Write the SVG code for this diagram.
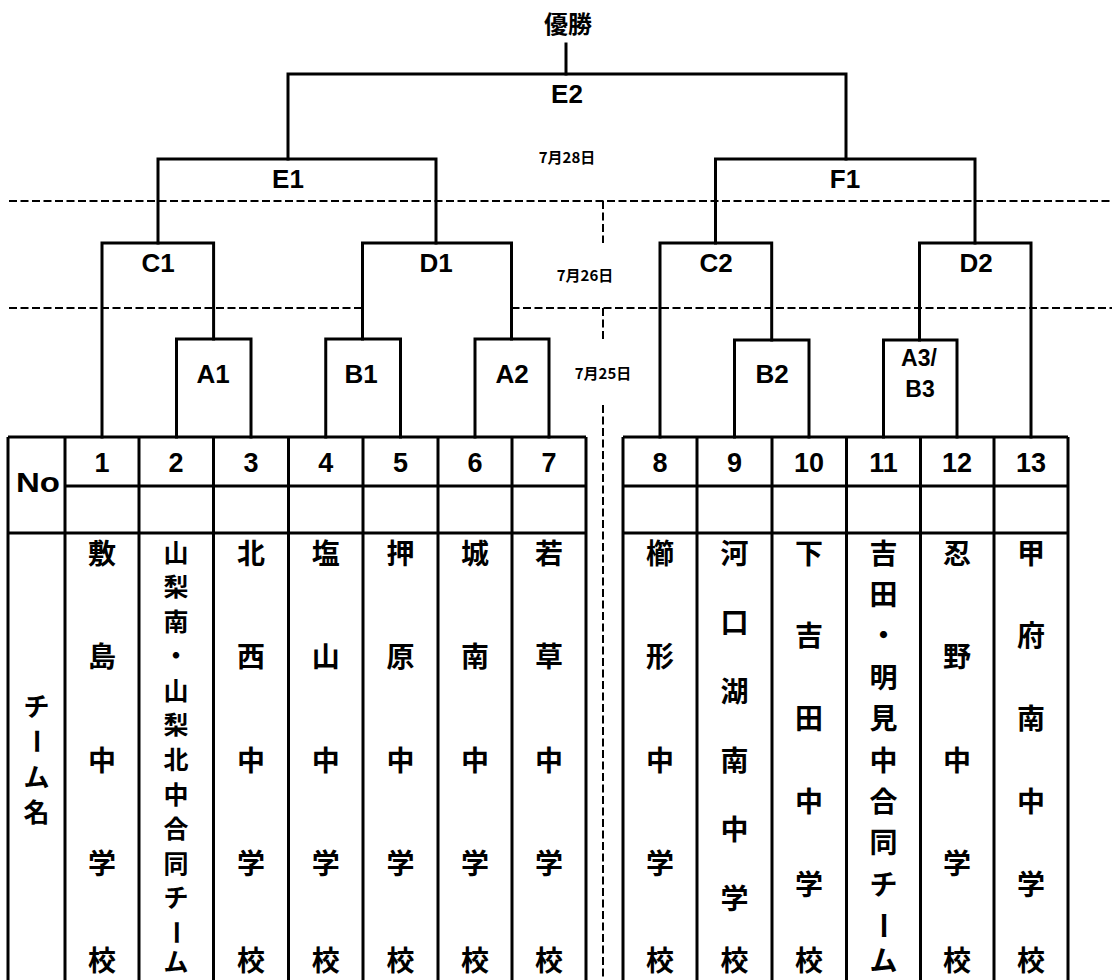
<svg xmlns="http://www.w3.org/2000/svg" width="1112" height="980" viewBox="0 0 1112 980">
<style>
.ln{fill:none;stroke:#000;stroke-width:3;stroke-linecap:square}
.tb{fill:none;stroke:#000;stroke-width:3}
.ds{fill:none;stroke:#000;stroke-width:2;stroke-dasharray:8 3.5}
.lb{font-family:"Liberation Sans","Noto Sans CJK JP",sans-serif;font-size:26px;font-weight:bold;text-anchor:middle;fill:#000}
.num{font-family:"Liberation Sans","Noto Sans CJK JP",sans-serif;font-size:27px;font-weight:bold;text-anchor:middle;fill:#000}
.dt{font-family:"Noto Sans CJK JP","Liberation Sans",sans-serif;font-size:15px;font-weight:bold;text-anchor:middle;fill:#000}
.jp{font-family:"Noto Sans CJK JP",sans-serif;font-size:28px;font-weight:bold;text-anchor:middle;fill:#000}
.jps{font-family:"Noto Sans CJK JP",sans-serif;font-size:25px;font-weight:bold;text-anchor:middle;fill:#000}
.jph{font-family:"Noto Sans CJK JP",sans-serif;font-size:26px;font-weight:bold;text-anchor:middle;fill:#000}
</style>

<g id="connectors">
<path class="ln" d="M566,44 V74"/>
<path class="ln" d="M288,159 V74 H846 V159"/>
<path class="ln" d="M158,243 V159 H436 V243"/>
<path class="ln" d="M715.5,243 V159 H975 V243"/>
<path class="ln" d="M102,437 V243 H213.6 V339"/>
<path class="ln" d="M362.5,339 V243 H511.5 V339"/>
<path class="ln" d="M660,437 V243 H771.7 V340"/>
<path class="ln" d="M919.5,340 V243 H1031 V437"/>
<path class="ln" d="M176.5,437 V339 H251 V437"/>
<path class="ln" d="M325.75,437 V339 H400.5 V437"/>
<path class="ln" d="M475,437 V339 H549 V437"/>
<path class="ln" d="M734.5,437 V340 H809 V437"/>
<path class="ln" d="M883.5,437 V340 H957 V437"/>
</g>

<g id="round-dividers">
<path class="ds" d="M9,201 H1112"/>
<path class="ds" d="M9,308 H362.5 M511.5,308 H1112"/>
<path class="ds" d="M603,201 V243 M603,308 V340 M603,405 V980"/>
</g>

<g id="champion"><text class="jp" style="font-size:24px" x="568" y="33">優勝</text></g>
<g id="date-0728"><text class="dt" x="567" y="163">7月28日</text></g>
<g id="date-0726"><text class="dt" x="585" y="281">7月26日</text></g>
<g id="date-0725"><text class="dt" x="603" y="379">7月25日</text></g>

<g id="match-E2"><text class="lb" x="567" y="103">E2</text></g>
<g id="match-E1"><text class="lb" x="288" y="188">E1</text></g>
<g id="match-F1"><text class="lb" x="845" y="188">F1</text></g>
<g id="match-C1"><text class="lb" x="158" y="272">C1</text></g>
<g id="match-D1"><text class="lb" x="436" y="272">D1</text></g>
<g id="match-C2"><text class="lb" x="716" y="272">C2</text></g>
<g id="match-D2"><text class="lb" x="976" y="272">D2</text></g>
<g id="match-A1"><text class="lb" x="213" y="383">A1</text></g>
<g id="match-B1"><text class="lb" x="361" y="383">B1</text></g>
<g id="match-A2"><text class="lb" x="512" y="383">A2</text></g>
<g id="match-B2"><text class="lb" x="772" y="383">B2</text></g>
<g id="match-A3B3"><text class="lb" style="font-size:23px" x="919" y="366">A3/</text><text class="lb" style="font-size:23px" x="920" y="397">B3</text></g>

<g id="table-left">
<path class="tb" d="M8,437 H586 M65,486 H586 M8,533 H586"/>
<path class="tb" d="M8,437 V990 M65,437 V990 M139,437 V990 M213.5,437 V990 M288.5,437 V990 M363,437 V990 M438,437 V990 M512,437 V990 M586,437 V990"/>
<text class="lb" x="38" y="492" textLength="44" lengthAdjust="spacingAndGlyphs" style="font-size:28px">No</text>
<text class="num" x="102" y="472">1</text>
<text class="num" x="176" y="472">2</text>
<text class="num" x="251" y="472">3</text>
<text class="num" x="325.75" y="472">4</text>
<text class="num" x="400.5" y="472">5</text>
<text class="num" x="475" y="472">6</text>
<text class="num" x="549" y="472">7</text>
</g>

<g id="table-right">
<path class="tb" d="M623,437 H1068 M623,486 H1068 M623,533 H1068"/>
<path class="tb" d="M623,437 V990 M697,437 V990 M772,437 V990 M846.5,437 V990 M920.5,437 V990 M994,437 V990 M1068,437 V990"/>
<text class="num" x="660" y="472">8</text>
<text class="num" x="734.5" y="472">9</text>
<text class="num" x="809" y="472">10</text>
<text class="num" x="883.5" y="472">11</text>
<text class="num" x="957" y="472">12</text>
<text class="num" x="1031" y="472">13</text>
</g>

<g id="header-team">
<text class="jph"><tspan x="36.5" y="715.9">チ</tspan><tspan x="36.5" y="786.6">ム</tspan><tspan x="36.5" y="821.9">名</tspan></text>
<text class="jph" x="36.5" y="751.2" transform="rotate(90 36.5 741.3)">ー</text>
</g>

<g id="team-1"><text class="jp"><tspan x="102" y="563.6">敷</tspan><tspan x="102" y="667.1">島</tspan><tspan x="102" y="770.6">中</tspan><tspan x="102" y="874.1">学</tspan><tspan x="102" y="971">校</tspan></text></g>

<g id="team-2"><text class="jps"><tspan x="176" y="561.5">山</tspan><tspan x="176" y="596.1">梨</tspan><tspan x="176" y="630.7">南</tspan><tspan x="176" y="665.25">・</tspan><tspan x="176" y="699.8">山</tspan><tspan x="176" y="734.4">梨</tspan><tspan x="176" y="769">北</tspan><tspan x="176" y="803.6">中</tspan><tspan x="176" y="838.2">合</tspan><tspan x="176" y="872.75">同</tspan><tspan x="176" y="907.3">チ</tspan><tspan x="176" y="971">ム</tspan></text>
<text class="jps" x="176" y="941.9" transform="rotate(90 176 932.4)">ー</text></g>

<g id="team-3"><text class="jp"><tspan x="251" y="563.6">北</tspan><tspan x="251" y="667.1">西</tspan><tspan x="251" y="770.6">中</tspan><tspan x="251" y="874.1">学</tspan><tspan x="251" y="971">校</tspan></text></g>

<g id="team-4"><text class="jp"><tspan x="325.75" y="563.6">塩</tspan><tspan x="325.75" y="667.1">山</tspan><tspan x="325.75" y="770.6">中</tspan><tspan x="325.75" y="874.1">学</tspan><tspan x="325.75" y="971">校</tspan></text></g>

<g id="team-5"><text class="jp"><tspan x="400.5" y="563.6">押</tspan><tspan x="400.5" y="667.1">原</tspan><tspan x="400.5" y="770.6">中</tspan><tspan x="400.5" y="874.1">学</tspan><tspan x="400.5" y="971">校</tspan></text></g>

<g id="team-6"><text class="jp"><tspan x="475" y="563.6">城</tspan><tspan x="475" y="667.1">南</tspan><tspan x="475" y="770.6">中</tspan><tspan x="475" y="874.1">学</tspan><tspan x="475" y="971">校</tspan></text></g>

<g id="team-7"><text class="jp"><tspan x="549" y="563.6">若</tspan><tspan x="549" y="667.1">草</tspan><tspan x="549" y="770.6">中</tspan><tspan x="549" y="874.1">学</tspan><tspan x="549" y="971">校</tspan></text></g>

<g id="team-8"><text class="jp"><tspan x="660" y="563.6">櫛</tspan><tspan x="660" y="667.1">形</tspan><tspan x="660" y="770.6">中</tspan><tspan x="660" y="874.1">学</tspan><tspan x="660" y="971">校</tspan></text></g>

<g id="team-9"><text class="jp"><tspan x="734.5" y="563.6">河</tspan><tspan x="734.5" y="632.6">口</tspan><tspan x="734.5" y="701.6">湖</tspan><tspan x="734.5" y="770.6">南</tspan><tspan x="734.5" y="839.6">中</tspan><tspan x="734.5" y="908.6">学</tspan><tspan x="734.5" y="971">校</tspan></text></g>

<g id="team-10"><text class="jp"><tspan x="809" y="563.6">下</tspan><tspan x="809" y="646.4">吉</tspan><tspan x="809" y="729.2">田</tspan><tspan x="809" y="812">中</tspan><tspan x="809" y="894.8">学</tspan><tspan x="809" y="971">校</tspan></text></g>

<g id="team-11"><text class="jp"><tspan x="883.5" y="563.6">吉</tspan><tspan x="883.5" y="605">田</tspan><tspan x="883.5" y="646.4">・</tspan><tspan x="883.5" y="687.8">明</tspan><tspan x="883.5" y="729.2">見</tspan><tspan x="883.5" y="770.6">中</tspan><tspan x="883.5" y="812">合</tspan><tspan x="883.5" y="853.4">同</tspan><tspan x="883.5" y="894.8">チ</tspan><tspan x="883.5" y="971">ム</tspan></text>
<text class="jp" x="883.5" y="936.2" transform="rotate(90 883.5 925.6)">ー</text></g>

<g id="team-12"><text class="jp"><tspan x="957" y="563.6">忍</tspan><tspan x="957" y="667.1">野</tspan><tspan x="957" y="770.6">中</tspan><tspan x="957" y="874.1">学</tspan><tspan x="957" y="971">校</tspan></text></g>

<g id="team-13"><text class="jp"><tspan x="1031" y="563.6">甲</tspan><tspan x="1031" y="646.4">府</tspan><tspan x="1031" y="729.2">南</tspan><tspan x="1031" y="812">中</tspan><tspan x="1031" y="894.8">学</tspan><tspan x="1031" y="971">校</tspan></text></g>
</svg>
